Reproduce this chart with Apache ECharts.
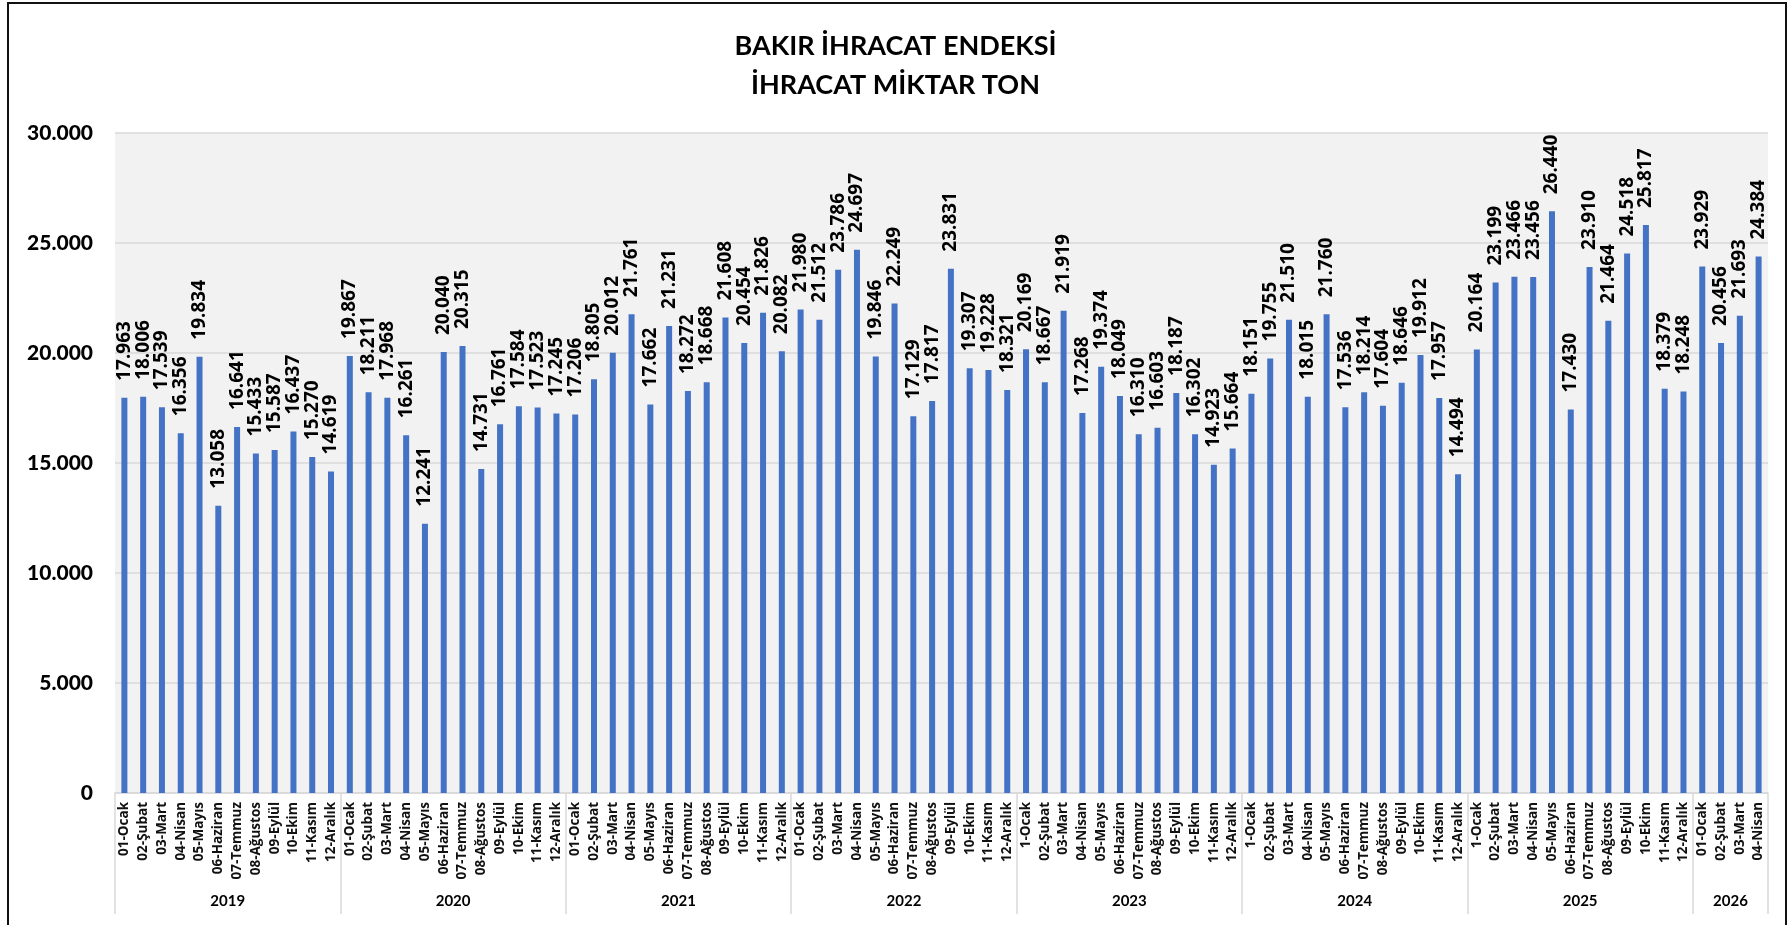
<!DOCTYPE html>
<html>
<head>
<meta charset="utf-8">
<script src="https://cdn.jsdelivr.net/npm/echarts@6/dist/echarts.min.js"></script>
<style>
  html, body { margin: 0; padding: 0; background: #fff; }
  #chart { width: 1791px; height: 925px; position: relative; }
  #frame { position: absolute; left: 7px; top: 2px; width: 1780px; height: 940px;
           border: 2px solid #111; box-sizing: border-box; pointer-events: none; }
</style>
</head>
<body>
<div id="chart"></div>
<div id="frame"></div>
<script>
// yillar ve her yilin ay sayisi
var years = ['2019', '2020', '2021', '2022', '2023', '2024', '2025', '2026'];
var monthNames = ['Ocak', 'Şubat', 'Mart', 'Nisan', 'Mayıs', 'Haziran', 'Temmuz', 'Ağustos', 'Eylül', 'Ekim', 'Kasım', 'Aralık'];
var monthCount = [12, 12, 12, 12, 12, 12, 12, 4];
// 2023-2025 ilk ay etiketi "1-Ocak" olarak yazilmis
var firstLabel = ['01-Ocak', '01-Ocak', '01-Ocak', '01-Ocak', '1-Ocak', '1-Ocak', '1-Ocak', '01-Ocak'];

var v2019 = [17963, 18006, 17539, 16356, 19834, 13058, 16641, 15433, 15587, 16437, 15270, 14619];
var v2020 = [19867, 18211, 17968, 16261, 12241, 20040, 20315, 14731, 16761, 17584, 17523, 17245];
var v2021 = [17206, 18805, 20012, 21761, 17662, 21231, 18272, 18668, 21608, 20454, 21826, 20082];
var v2022 = [21980, 21512, 23786, 24697, 19846, 22249, 17129, 17817, 23831, 19307, 19228, 18321];
var v2023 = [20169, 18667, 21919, 17268, 19374, 18049, 16310, 16603, 18187, 16302, 14923, 15664];
var v2024 = [18151, 19755, 21510, 18015, 21760, 17536, 18214, 17604, 18646, 19912, 17957, 14494];
var v2025 = [20164, 23199, 23466, 23456, 26440, 17430, 23910, 21464, 24518, 25817, 18379, 18248];
var v2026 = [23929, 20456, 21693, 24384];

var yTicks = [0, 5000, 10000, 15000, 20000, 25000, 30000];

var values = [].concat(v2019, v2020, v2021, v2022, v2023, v2024, v2025, v2026);

var categories = [];
var groupEdges = [0];
var groupCenters = [];
var pos = 0;
years.forEach(function (y, i) {
  for (var m = 0; m < monthCount[i]; m++) {
    var num = (m + 1 < 10 ? '0' : '') + (m + 1);
    categories.push(m === 0 ? firstLabel[i] : num + '-' + monthNames[m]);
  }
  groupCenters.push(pos + monthCount[i] / 2);
  pos += monthCount[i];
  groupEdges.push(pos);
});

function fmt(v) {
  return String(v).replace(/\B(?=(\d{3})+(?!\d))/g, '.');
}

var chart = echarts.init(document.getElementById('chart'));

chart.setOption({
  animation: false,
  title: {
    text: 'BAKIR İHRACAT ENDEKSİ\nİHRACAT MİKTAR TON',
    left: 'center',
    top: 22,
    textStyle: {
      fontFamily: 'Lato',
      fontWeight: 'bold',
      fontSize: 27,
      lineHeight: 39,
      color: '#000'
    }
  },
  grid: {
    left: 115,
    right: 23,
    top: 133,
    bottom: 132,
    show: true,
    backgroundColor: '#f2f2f2',
    borderWidth: 0
  },
  xAxis: [
    {
      type: 'category',
      data: categories,
      axisLine: { lineStyle: { color: '#d9d9d9', width: 1.5 } },
      axisTick: { show: false },
      axisLabel: {
        interval: 0,
        rotate: 90,
        margin: 9,
        fontFamily: 'Open Sans',
        fontWeight: 'bold',
        fontSize: 13.5,
        color: '#111'
      }
    },
    {
      type: 'value',
      position: 'bottom',
      min: 0,
      max: pos,
      splitLine: { show: false },
      axisLine: { show: false },
      axisTick: {
        show: true,
        customValues: groupEdges,
        length: 121,
        lineStyle: { color: '#d9d9d9', width: 1.5 }
      },
      axisLabel: {
        customValues: groupCenters,
        margin: 101,
        fontFamily: 'Lato',
        fontWeight: 'bold',
        fontSize: 15,
        color: '#000',
        formatter: function (v) {
          return years[groupCenters.indexOf(v)];
        }
      }
    }
  ],
  yAxis: {
    type: 'value',
    min: yTicks[0],
    max: yTicks[yTicks.length - 1],
    interval: 5000,
    axisLine: { show: false },
    axisTick: { show: false },
    splitLine: { lineStyle: { color: '#d9d9d9', width: 1.5 } },
    axisLabel: {
      margin: 22,
      fontFamily: 'Lato',
      fontWeight: 900,
      fontSize: 21,
      color: '#000',
      formatter: fmt
    }
  },
  series: [{
    type: 'bar',
    data: values,
    barWidth: 6,
    itemStyle: { color: '#4472c4' },
    label: {
      show: true,
      position: 'top',
      rotate: 90,
      align: 'left',
      verticalAlign: 'middle',
      distance: 17,
      fontFamily: 'Open Sans',
      fontWeight: 'bold',
      fontSize: 19,
      color: '#000',
      formatter: function (p) { return fmt(p.value); }
    }
  }]
});
</script>
</body>
</html>
